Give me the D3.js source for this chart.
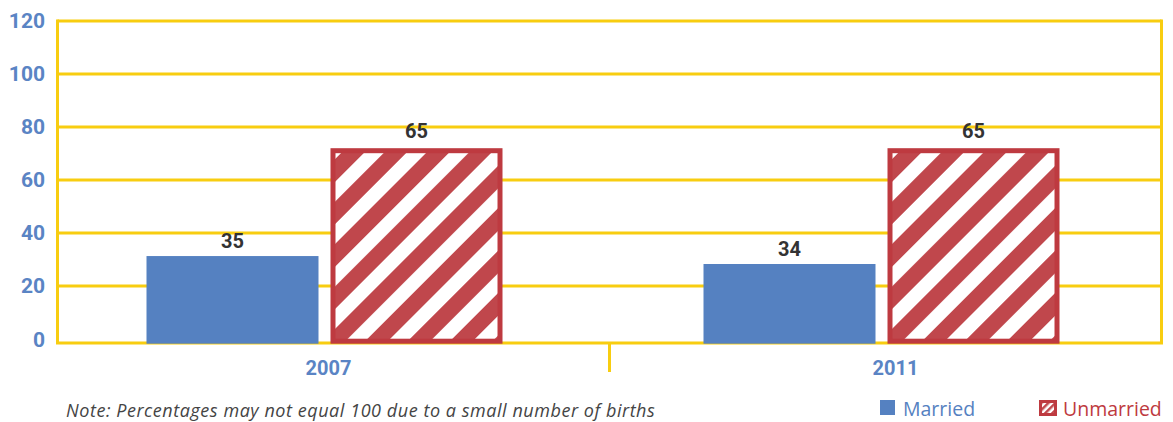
<!DOCTYPE html>
<html><head><meta charset="utf-8">
<script src="https://cdn.jsdelivr.net/npm/d3@7"></script>
<style>
html,body{margin:0;padding:0;background:#fff;}
svg{display:block;}
</style></head>
<body>
<svg id="chart" width="1173" height="422"></svg>
<script>
// ---- data ----
const years = ["2007", "2011"];
const series = ["Married", "Unmarried"];
// bar heights as drawn in the picture (percent scale)
const marriedHeights = [31.3, 28.3];
const unmarriedHeights = [72.0, 72.0];
// value labels printed above bars
const marriedLabels = ["35", "34"];
const unmarriedLabels = ["65", "65"];
const yTicks = [0, 20, 40, 60, 80, 100, 120];
const noteText = "Note: Percentages may not equal 100 due to a small number of births";

// ---- styles ----
const BLUE = "#5581c1", RED = "#c0474c", RED_STROKE = "#be3a40", YELLOW = "#f8cd10";
const AXIS_BLUE = "#5a84c4", DARK = "#333333";

const svg = d3.select("#chart");
const plotLeft = 57.5, plotRight = 1161.5, plotTop = 21, zeroY = 339, baseY = 343;

const y = d3.scaleLinear().domain([0, 120]).range([zeroY, plotTop]);
const x0 = d3.scaleBand().domain(years).range([46, 1160]).padding(0);
const x1 = d3.scaleBand().domain(series).range([-178, 178]).paddingInner(12 / 184).paddingOuter(0);

// pattern
const defs = svg.append("defs");
const pat = defs.append("pattern").attr("id", "hatch").attr("patternUnits", "userSpaceOnUse")
  .attr("width", 30).attr("height", 30).attr("patternTransform", "rotate(45)");
pat.append("rect").attr("width", 30).attr("height", 30).attr("fill", "#fff");
pat.append("rect").attr("width", 16).attr("height", 30).attr("fill", RED);
const pat2 = defs.append("pattern").attr("id", "hatchSmall").attr("patternUnits", "userSpaceOnUse")
  .attr("width", 5).attr("height", 5).attr("patternTransform", "rotate(45)");
pat2.append("rect").attr("width", 5).attr("height", 5).attr("fill", "#fff");
pat2.append("rect").attr("width", 2.5).attr("height", 5).attr("fill", RED);

// grid lines
const grid = svg.append("g").attr("class", "grid");
grid.selectAll("line").data(yTicks.filter(d => d > 0)).join("line")
  .attr("x1", plotLeft).attr("x2", plotRight)
  .attr("y1", d => y(d)).attr("y2", d => y(d))
  .attr("stroke", YELLOW).attr("stroke-width", 3);
// frame: baseline, sides, middle tick
grid.append("line").attr("x1", plotLeft - 1.5).attr("x2", plotRight + 1.5).attr("y1", baseY).attr("y2", baseY)
  .attr("stroke", YELLOW).attr("stroke-width", 3);
grid.append("line").attr("x1", plotLeft).attr("x2", plotLeft).attr("y1", plotTop - 1.5).attr("y2", baseY)
  .attr("stroke", YELLOW).attr("stroke-width", 3);
grid.append("line").attr("x1", plotRight).attr("x2", plotRight).attr("y1", plotTop - 1.5).attr("y2", baseY)
  .attr("stroke", YELLOW).attr("stroke-width", 3);
grid.append("line").attr("x1", (plotLeft + plotRight) / 2).attr("x2", (plotLeft + plotRight) / 2)
  .attr("y1", baseY).attr("y2", 372).attr("stroke", YELLOW).attr("stroke-width", 3);

// y axis labels
const yAxis = svg.append("g").attr("transform", `translate(45,0)`)
  .call(d3.axisLeft(y).tickValues(yTicks).tickSize(0).tickPadding(0));
yAxis.select(".domain").remove();
yAxis.selectAll("text")
  .attr("dy", "0.32em")
  .attr("transform", d => d === 0 ? "translate(0,1)" : null)
  .attr("fill", AXIS_BLUE).attr("font-family", "Roboto, sans-serif")
  .attr("font-weight", "bold").attr("font-size", 21);

// bars
const groups = svg.selectAll("g.year").data(years).join("g").attr("class", "year")
  .attr("transform", d => `translate(${x0(d) + x0.bandwidth() / 2},0)`);

groups.append("rect")
  .attr("x", x1("Married")).attr("width", x1.bandwidth())
  .attr("y", (d, i) => y(marriedHeights[i]))
  .attr("height", (d, i) => baseY + 0.7 - y(marriedHeights[i]))
  .attr("fill", BLUE);

groups.append("rect")
  .attr("x", x1("Unmarried") + 2.5).attr("width", x1.bandwidth() - 5)
  .attr("y", (d, i) => y(unmarriedHeights[i]) + 2.5)
  .attr("height", (d, i) => baseY + 0.7 - y(unmarriedHeights[i]) - 5)
  .attr("fill", "url(#hatch)").attr("stroke", RED_STROKE).attr("stroke-width", 5);

const lblStyle = sel => sel.attr("text-anchor", "middle").attr("fill", DARK)
  .attr("font-family", "Roboto, sans-serif").attr("font-weight", "bold").attr("font-size", 20);
groups.append("text").call(lblStyle)
  .attr("x", x1("Married") + x1.bandwidth() / 2)
  .attr("y", (d, i) => y(marriedHeights[i]) - 8)
  .text((d, i) => marriedLabels[i]);
groups.append("text").call(lblStyle)
  .attr("x", x1("Unmarried") + x1.bandwidth() / 2)
  .attr("y", (d, i) => y(unmarriedHeights[i]) - 10)
  .text((d, i) => unmarriedLabels[i]);

// category labels
groups.append("text").attr("x", (d, i) => i === 0 ? 4 : 14).attr("y", 375)
  .attr("text-anchor", "middle").attr("fill", AXIS_BLUE)
  .attr("font-family", "Roboto, sans-serif").attr("font-weight", "bold").attr("font-size", 20)
  .text(d => d);

// note
svg.append("text").attr("x", 66).attr("y", 417)
  .attr("fill", "#444").attr("font-family", "'Open Sans', sans-serif")
  .attr("font-style", "italic").attr("font-size", 18).attr("letter-spacing", 0.55)
  .text(noteText);

// legend
const lg = svg.append("g");
lg.append("rect").attr("x", 880).attr("y", 400).attr("width", 15).attr("height", 15).attr("fill", BLUE);
lg.append("text").attr("x", 903).attr("y", 416).attr("fill", BLUE)
  .attr("font-family", "'Open Sans', sans-serif").attr("font-size", 19.5).text(series[0]);
lg.append("rect").attr("x", 1040.5).attr("y", 401.5).attr("width", 15).attr("height", 13)
  .attr("fill", "url(#hatchSmall)").attr("stroke", RED_STROKE).attr("stroke-width", 3);
lg.append("text").attr("x", 1063).attr("y", 416).attr("fill", RED_STROKE)
  .attr("font-family", "'Open Sans', sans-serif").attr("font-size", 19.5).text(series[1]);
</script>
</body></html>
